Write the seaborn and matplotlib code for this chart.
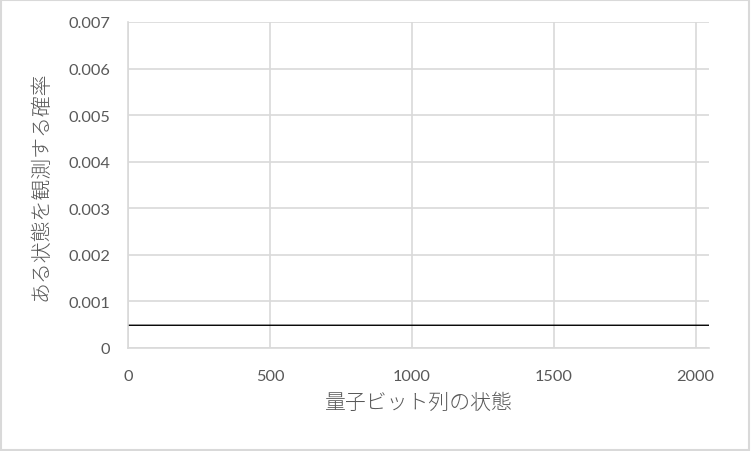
import numpy as np
import pandas as pd
import matplotlib
matplotlib.use('Agg')
import matplotlib.pyplot as plt
from matplotlib.patches import Rectangle
import seaborn as sns

# data: 11 qubits -> 2048 states, uniform probability
n_qubits = 11
states = np.arange(2 ** n_qubits)
probability = np.full(states.size, 1 / 2 ** n_qubits)

x_ticks = [0, 500, 1000, 1500, 2000]
y_ticks = [0, 0.001, 0.002, 0.003, 0.004, 0.005, 0.006, 0.007]
x_title = '量子ビット列の状態'
y_title = 'ある状態を観測する確率'

df = pd.DataFrame({'state': states, 'prob': probability})

sns.set_style('white')
plt.rcParams['font.family'] = ['Lato', 'Noto Sans CJK JP', 'DejaVu Sans']

grid_c = '#d9d9d9'
text_c = '#595959'

fig = plt.figure(figsize=(7.51, 4.52), dpi=100)
ax = fig.add_axes([128 / 751, 1 - 349 / 452, (709 - 128) / 751, (349 - 23) / 452])

sns.lineplot(data=df, x='state', y='prob', color='black', linewidth=1, ax=ax)

ax.set_xlim(0, 2047)
ax.set_ylim(0, 0.007)
ax.set_xticks(x_ticks)
ax.set_yticks(y_ticks)
ax.set_yticklabels(['0' if v == 0 else f'{v:.3f}' for v in y_ticks])
ax.grid(True, color=grid_c, linewidth=1.2)
ax.set_axisbelow(True)
for side in ['top', 'right']:
    ax.spines[side].set_visible(False)
for side in ['left', 'bottom']:
    ax.spines[side].set_color(grid_c)
    ax.spines[side].set_linewidth(1.2)
ax.tick_params(length=0, labelsize=11.8, colors=text_c)
ax.tick_params(axis='y', pad=13)
ax.tick_params(axis='x', pad=15)

cjk = ['Noto Sans CJK JP', 'DejaVu Sans']
ax.set_xlabel(x_title, fontsize=15, color=text_c, family=cjk, fontweight='light', labelpad=6)
ax.set_ylabel(y_title, fontsize=15, color=text_c, family=cjk, fontweight='light', labelpad=12)

# outer chart border
fig.patches.append(Rectangle((0.001, 0.002), 0.997, 0.995, transform=fig.transFigure,
                             fill=False, edgecolor=grid_c, linewidth=1.5))

fig.savefig('out.png', dpi=100)
